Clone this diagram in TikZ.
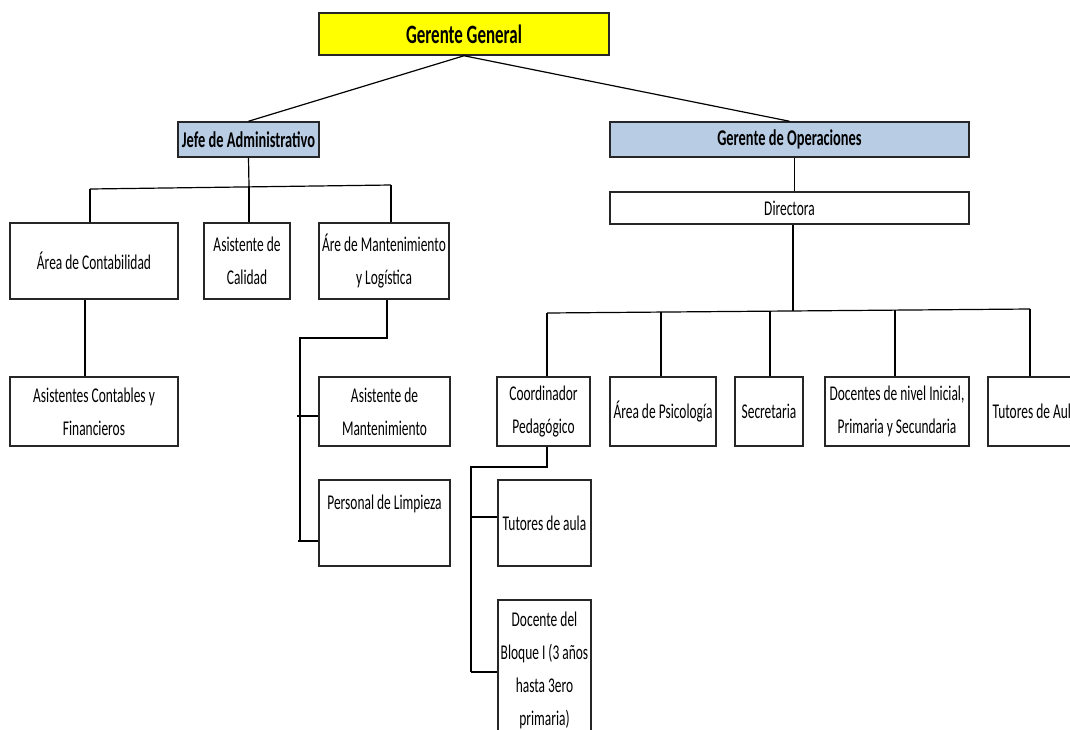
\documentclass[tikz,border=0pt]{standalone}
\usepackage{fontspec}
\setmainfont{Carlito}[FakeStretch=0.64]
\usetikzlibrary{calc}
\definecolor{bossyellow}{HTML}{FFFF00}
\definecolor{mgrblue}{HTML}{B8CCE4}
\definecolor{edge}{HTML}{262626}
\tikzset{
  orgbox/.style={draw=edge, line width=1.5pt, fill=white, align=center,
    inner sep=1pt, font=\fontsize{21}{33}\selectfont},
  headbox/.style={orgbox, font=\fontsize{22.5}{28}\selectfont\bfseries},
  link/.style={draw=black, line width=1.2pt}
}
\begin{document}
\begin{tikzpicture}[x=1pt,y=-1pt]
  \useasboundingbox (0,0) rectangle (1070,729);
  \fill[white] (0,0) rectangle (1070,729);
  \clip (0,0) rectangle (1070,729);

  % top level
  \node[headbox, fill=bossyellow, font=\fontsize{26.5}{30}\selectfont\bfseries,
        minimum width=290pt, minimum height=42pt] (gg) at (464,34) {Gerente General};
  \node[headbox, fill=mgrblue, minimum width=141pt, minimum height=35pt] (ja) at (248.5,139.5) {Jefe de Administrativo};
  \node[headbox, fill=mgrblue, minimum width=359pt, minimum height=35pt] (gop) at (789.5,139.5) {Gerente de Operaciones};
  \node[orgbox, minimum width=359pt, minimum height=32pt] (dir) at (789.5,208) {Directora};

  % administrative branch
  \node[orgbox, minimum width=168pt, minimum height=76pt] (ac) at (94,261) {Área de Contabilidad};
  \node[orgbox, minimum width=86pt, minimum height=76pt] (acal) at (247,261) {Asistente de\\Calidad};
  \node[orgbox, minimum width=130pt, minimum height=76pt] (aml) at (384,261) {Áre de Mantenimiento\\y Logística};
  \node[orgbox, minimum width=168pt, minimum height=69pt] (acf) at (94,411.5) {Asistentes Contables y\\Financieros};
  \node[orgbox, minimum width=131pt, minimum height=69pt] (am) at (384.5,411.5) {Asistente de\\Mantenimiento};
  \node[orgbox, minimum width=131pt, minimum height=86pt] (pl) at (384.5,523) {Personal de Limpieza\\[9pt]\mbox{}};

  % operations branch
  \node[orgbox, minimum width=93pt, minimum height=69pt] (cp) at (543.5,411.5) {Coordinador\\Pedagógico};
  \node[orgbox, minimum width=106pt, minimum height=69pt] (ps) at (663,411.5) {Área de Psicología};
  \node[orgbox, minimum width=68pt, minimum height=69pt] (sec) at (769,411.5) {Secretaria};
  \node[orgbox, minimum width=144pt, minimum height=69pt] (doc) at (897,411.5) {Docentes de nivel Inicial,\\Primaria y Secundaria};
  \node[orgbox, minimum width=94pt, minimum height=69pt] (tua) at (1035,411.5) {Tutores de Aula};
  \node[orgbox, minimum width=93pt, minimum height=86pt] (ta) at (544.5,523) {Tutores de aula};
  \node[orgbox, minimum width=93pt, minimum height=142pt] (db) at (544.5,671) {Docente del\\Bloque I (3 años\\hasta 3ero\\primaria)\\[-29pt]\mbox{}};

  % connectors from the general manager
  \draw[link] (gg.south) -- (ja.north);
  \draw[link] (gg.south) -- (gop.north);

  % administrative bus
  \coordinate (jbL) at (90,189);
  \coordinate (jbM) at (249,186);
  \coordinate (jbR) at (391,185);
  \draw[link] (ja.south) -- (jbM);
  \draw[link] (jbL) -- (jbR);
  \draw[link] (jbL) -- (jbL |- ac.north);
  \draw[link] (jbM) -- (jbM |- acal.north);
  \draw[link] (jbR) -- (jbR |- aml.north);
  \draw[link] ([xshift=-9pt]ac.south) -- ([xshift=-9pt]acf.north);

  % maintenance spine
  \coordinate (mtop) at (300,338);
  \coordinate (mbot) at (300,541);
  \coordinate (mtickA) at (297,416);
  \coordinate (mtickB) at (298,541);
  \draw[link] ([xshift=3pt]aml.south) |- (mtop) -- (mbot);
  \draw[link] (mtickA) -- (mtickA -| am.west);
  \draw[link] (mtickB) -- (mtickB -| pl.west);

  % operations chain
  \draw[link] ([xshift=5pt]gop.south) -- ([xshift=5pt]dir.north);
  \coordinate (dbL) at (547,313);
  \coordinate (dbR) at (1030,309);
  \coordinate (dbA) at (661,312);
  \coordinate (dbB) at (770,311);
  \coordinate (dbC) at (895,310);
  \coordinate (dbM) at (793,311);
  \draw[link] (dbM |- dir.south) -- (dbM);
  \draw[link] (dbL) -- (dbR);
  \draw[link] (dbL) -- (dbL |- cp.north);
  \draw[link] (dbA) -- (dbA |- ps.north);
  \draw[link] (dbB) -- (dbB |- sec.north);
  \draw[link] (dbC) -- (dbC |- doc.north);
  \draw[link] (dbR) -- (dbR |- tua.north);

  % pedagogical spine
  \coordinate (ptop) at (471,467);
  \coordinate (pbot) at (471,672);
  \coordinate (ptick) at (471,517);
  \draw[link] ([xshift=3.5pt]cp.south) |- (ptop) -- (pbot);
  \draw[link] (ptick) -- (ptick -| ta.west);
  \draw[link] (pbot) -- (pbot -| db.west);
\end{tikzpicture}
\end{document}
